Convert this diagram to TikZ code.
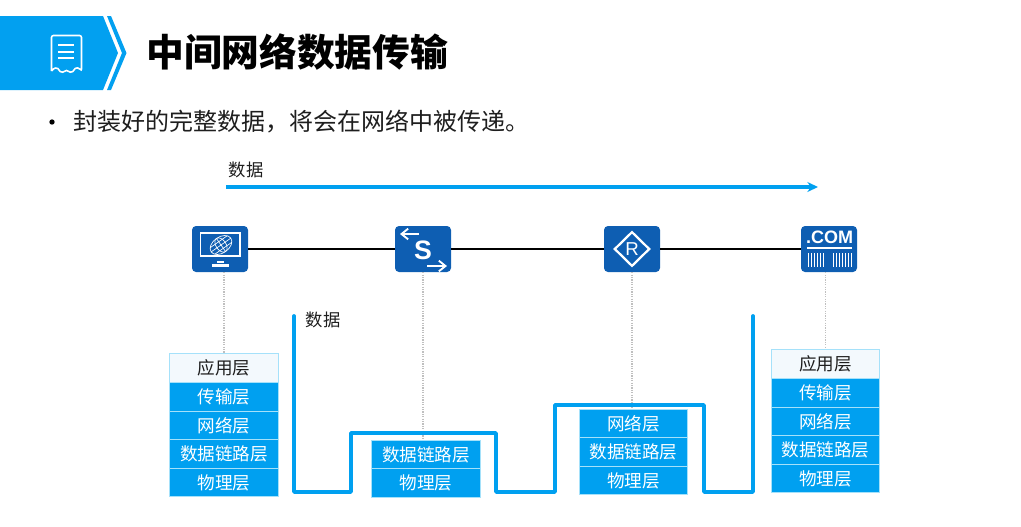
\documentclass[tikz,border=0pt]{standalone}
\usepackage{fontspec}
\setmainfont{Noto Sans CJK SC}
\newfontfamily\latinfont{Liberation Sans}
\usetikzlibrary{shapes.geometric,arrows.meta}
\definecolor{headerblue}{RGB}{2,160,240}
\definecolor{layerblue}{RGB}{0,160,240}
\definecolor{layerline}{RGB}{165,225,250}
\definecolor{toplayer}{RGB}{243,249,253}
\definecolor{iconblue}{RGB}{14,94,178}
\definecolor{inktext}{RGB}{30,30,30}
\tikzset{
    layer/.style={rectangle, draw=layerline, fill=layerblue, text=white, line width=0.7pt, anchor=north, minimum width=81.5pt, minimum height=21.4pt, inner sep=0pt, font=\fontsize{13.2pt}{15pt}\selectfont},
    layerT/.style={layer, fill=toplayer, text=inktext},
    device/.style={rectangle, rounded corners=3pt, fill=iconblue, minimum width=42pt, minimum height=34.5pt, inner sep=0pt},
    wire/.style={line width=1.4pt, black},
    drop/.style={line width=0.8pt, black!25, densely dotted},
    flow/.style={line width=2.8pt, layerblue, line join=round, line cap=round},
    glyph/.style={white, line width=0.9pt},
    glyphthin/.style={white, line width=0.5pt},
    caption/.style={text=inktext, inner sep=0pt, font=\fontsize{13pt}{15pt}\selectfont},
}

\begin{document}
\begin{tikzpicture}[x=0.75pt,y=-0.75pt]
    \useasboundingbox (0,0) rectangle (1021,526);

    % header band
    \fill[headerblue] (0,16) -- (103,16) -- (118,53) -- (103,90) -- (0,90) -- cycle;
    \fill[headerblue] (107,16) -- (111,16) -- (126.5,53) -- (111,90) -- (107,90) -- (122,53) -- cycle;
    \draw[glyph, rounded corners=1.5pt, line width=1.2pt] (51.5,71) -- (51.5,35.5) -- (81.5,35.5) -- (81.5,71)
        .. controls (79,67.5) and (76,67.5) .. (74,70) .. controls (72,72.5) and (69,72.5) .. (66.5,69.5)
        .. controls (64,72.5) and (61,72.5) .. (59,70) .. controls (57,67.5) and (54,67.5) .. (51.5,71);
    \foreach \y in {45,52,58} {
        \draw[glyph, line width=1.1pt] (58,\y) -- (74,\y);
    }
    \node[anchor=west, inner sep=0pt, font=\fontsize{28.3pt}{30pt}\selectfont\bfseries] (title) at (146,52) {中间网络数据传输};
    \node[circle, fill=black, inner sep=0pt, minimum size=4pt] (dot) at (52,122) {};
    \node[anchor=west, text=inktext, inner sep=0pt, font=\fontsize{18pt}{20pt}\selectfont] (intro) at (73,122) {封装好的完整数据^^^^ff0c将会在网络中被传递。};

    % data direction
    \node[caption] (toplabel) at (246,170) {数据};
    \coordinate (arrowstart) at (226,187);
    \coordinate (arrowend) at (818,187);
    \draw[line width=2.3pt, layerblue, -{Stealth[length=8pt,width=7.5pt]}] (arrowstart) -- (arrowend);

    % devices
    \node[device] (host) at (220,249) {};
    \node[device] (switch) at (423,249) {};
    \node[device] (router) at (632,249) {};
    \node[device] (server) at (829,249) {};
    \draw[wire] (host) -- (switch);
    \draw[wire] (switch) -- (router);
    \draw[wire] (router) -- (server);

    % host icon
    \draw[glyph, line width=1.3pt] (200.5,233) rectangle (240,256);
    \draw[glyph, line width=1.8pt] (212,265.5) -- (229,265.5);
    \draw[glyph, line width=1.2pt] (217,262) -- (224,262);
    \begin{scope}[shift={(221,245)}, rotate=35]
        \draw[glyphthin] (0,0) ellipse [x radius=12, y radius=8];
        \draw[glyphthin] (0,0) ellipse [x radius=5, y radius=8];
        \draw[glyphthin] (-12,0) -- (12,0);
        \draw[glyphthin] (-10.5,-4) -- (10.5,-4);
        \draw[glyphthin] (-10.5,4) -- (10.5,4);
        \draw[glyphthin] (0,-8) -- (0,8);
    \end{scope}

    % switch icon
    \node[text=white, inner sep=0pt, font=\latinfont\bfseries\fontsize{20pt}{21pt}\selectfont] (switchS) at (423,250) {S};
    \draw[glyph, line width=1.4pt, -{Straight Barb[length=5pt,width=8pt]}] (419,234) -- (400,234);
    \draw[glyph, line width=1.4pt, -{Straight Barb[length=5pt,width=8pt]}] (427,266) -- (447,266);

    % router icon
    \node[diamond, draw=white, line width=1.7pt, text=white, minimum width=26.5pt, minimum height=26pt, inner sep=0pt, font=\latinfont\fontsize{14pt}{15pt}\selectfont] (routerR) at (632,249) {R};

    % server icon
    \node[text=white, inner sep=0pt, font=\latinfont\bfseries\fontsize{13.5pt}{15pt}\selectfont] (serverCOM) at (829.5,237.5) {.COM};
    \draw[glyph, line width=1.4pt] (807,248) -- (852,248);
    \foreach \x in {808.5,811.5,...,826} {
        \draw[glyph, line width=0.9pt] (\x,253) -- (\x,267);
    }
    \foreach \x in {833.5,836.5,...,852} {
        \draw[glyph, line width=0.9pt] (\x,253) -- (\x,267);
    }

    % host stack
    \node[layerT] (hostA) at (224,353) {应用层};
    \foreach \i/\name/\label in {0/T/传输层, 1/N/网络层, 2/D/数据链路层, 3/P/物理层} {
        \node[layer] (host\name) at (224,{382+\i*28.6}) {\label};
    }

    % switch stack
    \foreach \i/\name/\label in {0/D/数据链路层, 1/P/物理层} {
        \node[layer] (switch\name) at (426,{439.8+\i*28.4}) {\label};
    }

    % router stack
    \foreach \i/\name/\label in {0/N/网络层, 1/D/数据链路层, 2/P/物理层} {
        \node[layer] (router\name) at (633.5,{409+\i*28.4}) {\label};
    }

    % server stack
    \node[layerT] (serverA) at (825.5,349) {应用层};
    \foreach \i/\name/\label in {0/T/传输层, 1/N/网络层, 2/D/数据链路层, 3/P/物理层} {
        \node[layer] (server\name) at (825.5,{378+\i*28.6}) {\label};
    }

    % drops from devices to stacks
    \draw[drop] (host.south -| hostA.north) -- (hostA.north);
    \draw[drop] (switch.south) -- (switchD.north -| switch.south);
    \draw[drop] (router.south) -- (routerN.north -| router.south);
    \draw[drop] (server.south -| serverA.north) -- (serverA.north);

    % path of the data through the stacks
    \coordinate (flowstart) at (294,316);
    \coordinate (flowend) at (753,316);
    \draw[flow] (flowstart) -- (294,492) -- (351,492) -- (351,433) -- (496,433) -- (496,492)
        -- (555,492) -- (555,405) -- (704,405) -- (704,492) -- (753,492) -- (flowend);
    \node[caption] (flowlabel) at (323,320) {数据};
\end{tikzpicture}
\end{document}
